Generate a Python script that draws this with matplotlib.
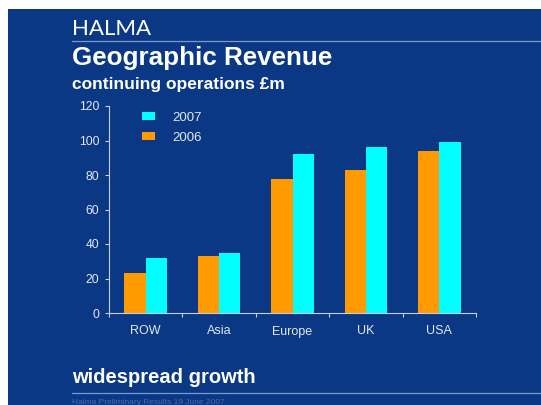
import matplotlib.pyplot as plt
import numpy as np
from matplotlib.lines import Line2D
from matplotlib.patches import Rectangle


regions = ["ROW", "Asia", "Europe", "UK", "USA"]
revenue_2006 = [23, 33, 77.5, 83, 94]
revenue_2007 = [32, 35, 92, 96.5, 99]
yticks = [0, 20, 40, 60, 80, 100, 120]

slide_blue = "#0B3884"
orange = "#FF9A00"
cyan = "#00FFFF"
light = "#E4E8F0"
rule = "#7C98C8"

plt.rcParams["font.family"] = ["Liberation Sans", "DejaVu Sans"]

fig = plt.figure(figsize=(5.41, 4.05), dpi=100, facecolor="white")

# slide background, leaving a thin white margin at top and left
fig.patches.append(
    Rectangle((8 / 541, 0), 1, 1 - 9 / 405, transform=fig.transFigure,
              facecolor=slide_blue, edgecolor="none", zorder=-1)
)

# header
fig.text(72 / 541, 0.9136, "HALMA", color="white", fontsize=16,
         family=["Lato", "DejaVu Sans"], va="baseline")
fig.add_artist(Line2D([72 / 541, 1], [0.900, 0.900], transform=fig.transFigure,
                      color=rule, lw=0.9))
fig.text(72 / 541, 0.8395, "Geographic Revenue", color="white", fontsize=18.7,
         fontweight="bold", va="baseline")
fig.text(72 / 541, 0.780, "continuing operations £m", color="white", fontsize=12.5,
         fontweight="bold", va="baseline")

# footer
fig.text(72 / 541, 0.0543, "widespread growth", color="white", fontsize=14.5,
         fontweight="bold", va="baseline")
fig.add_artist(Line2D([72 / 541, 1], [0.030, 0.030], transform=fig.transFigure,
                      color=rule, lw=0.9))
fig.text(72 / 541, 0.002, "Halma Preliminary Results 19 June 2007", color="#4B68A6",
         fontsize=6, va="baseline")

ax = fig.add_axes([109 / 541, 1 - 313 / 405, 367 / 541, 207 / 405])
ax.set_facecolor("none")
ax.set_zorder(2)

x = np.arange(len(regions))
w = 0.29
b06 = ax.bar(x - w / 2, revenue_2006, w, color=orange, label="2006", zorder=2)
b07 = ax.bar(x + w / 2, revenue_2007, w, color=cyan, label="2007", zorder=2)

ax.set_xlim(-0.5, len(regions) - 0.5)
ax.set_ylim(0, 120)
ax.set_yticks(yticks)
ax.set_xticks(x)
ax.set_xticklabels(regions)
ax.set_xticks(np.arange(-0.5, len(regions)), minor=True)

for side in ["top", "right"]:
    ax.spines[side].set_visible(False)
for side in ["left", "bottom"]:
    ax.spines[side].set_color("#C8D0E0")
    ax.spines[side].set_linewidth(0.8)

ax.tick_params(axis="y", colors="#C8D0E0", labelcolor=light, labelsize=8.7,
               length=3, width=0.8, pad=4)
ax.tick_params(axis="x", which="major", length=0, labelcolor=light,
               labelsize=9, pad=9)
ax.tick_params(axis="x", which="minor", colors="#C8D0E0", length=3, width=0.8)

leg = ax.legend(handles=[b07, b06], loc="upper left",
                bbox_to_anchor=(0.057, 1.03), frameon=False, fontsize=9.5,
                handlelength=1.0, handleheight=0.6, handletextpad=1.35,
                labelspacing=0.62)
for t in leg.get_texts():
    t.set_color(light)

fig.savefig("out.png", dpi=100, facecolor=fig.get_facecolor())
